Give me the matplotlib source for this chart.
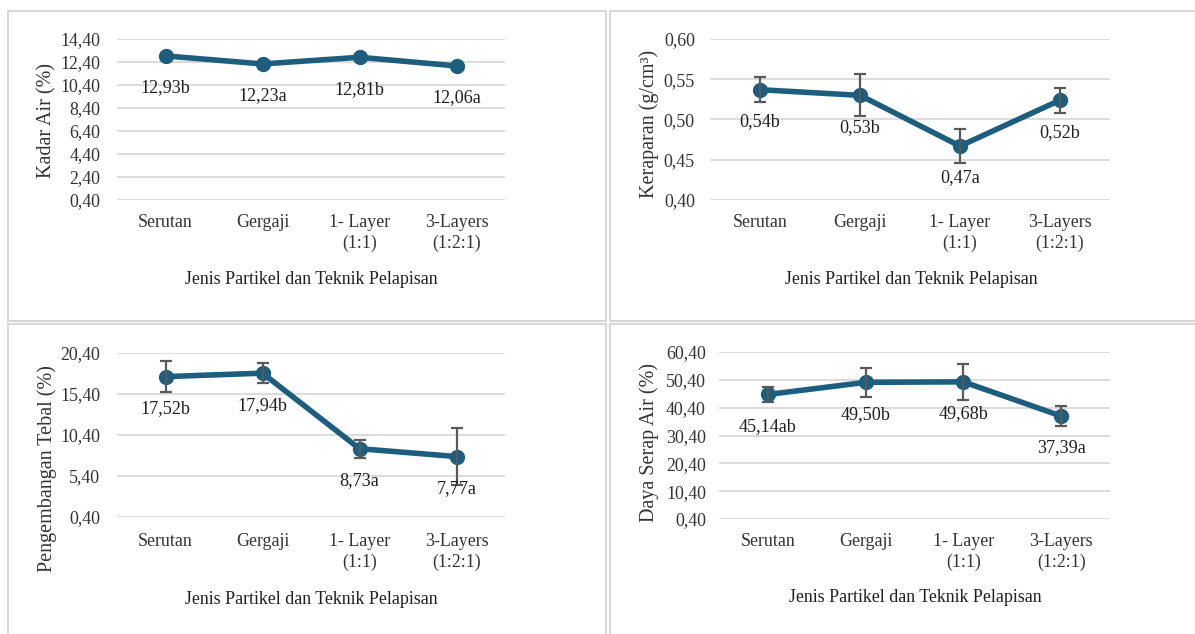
import matplotlib
matplotlib.use("Agg")
import matplotlib.pyplot as plt
from matplotlib.patches import Rectangle

plt.rcParams['font.family'] = ['Liberation Serif', 'DejaVu Serif']

categories = ["Serutan", "Gergaji", "1- Layer\n(1:1)", "3-Layers\n(1:2:1)"]

kadar_air = [12.93, 12.23, 12.81, 12.06]
kadar_air_labels = ["12,93b", "12,23a", "12,81b", "12,06a"]

kerapatan = [0.537, 0.530, 0.467, 0.524]
kerapatan_err = [0.0155, 0.026, 0.021, 0.0155]
kerapatan_labels = ["0,54b", "0,53b", "0,47a", "0,52b"]

pengembangan = [17.52, 17.94, 8.73, 7.77]
pengembangan_err = [1.9, 1.2, 1.1, 3.5]
pengembangan_labels = ["17,52b", "17,94b", "8,73a", "7,77a"]

daya_serap = [45.14, 49.50, 49.68, 37.39]
daya_serap_err = [2.7, 5.3, 6.5, 3.5]
daya_serap_labels = ["45,14ab", "49,50b", "49,68b", "37,39a"]

W, H = 1195, 634
fig = plt.figure(figsize=(W / 100, H / 100), dpi=100)
fig.patch.set_facecolor('white')

LINE = '#1D5E7E'
GRID = '#D9D9D9'
TXT = '#333333'

# panel borders
for (x0, y0, x1, y1) in [(8, 11, 606, 321), (610, 11, 1199, 321),
                         (8, 324, 606, 640), (610, 324, 1199, 640)]:
    fig.patches.append(Rectangle((x0 / W, 1 - y1 / H), (x1 - x0) / W, (y1 - y0) / H,
                                 transform=fig.transFigure, fill=False,
                                 edgecolor='#D6D6D6', linewidth=1.4))


def fx(px):
    return px / W


def fy(py):
    return 1 - py / H


def panel(left, right, top, bottom, values, errs, labels, yticks, yticklabels,
          ylabel, ylab_xy, xlab_xy, ypad, xpad):
    ax = fig.add_axes([fx(left), fy(bottom), fx(right - left), (bottom - top) / H])
    x = list(range(len(values)))
    ax.plot(x, values, color=LINE, linewidth=4.0, marker='o', markersize=10,
            zorder=3, solid_capstyle='round')
    if errs is not None:
        ax.errorbar(x, values, yerr=errs, fmt='none', ecolor='#595959',
                    elinewidth=1.6, capsize=4.5, capthick=1.6, zorder=4)
    for xi, v, lab in zip(x, values, labels):
        ax.annotate(lab, (xi, v), xytext=(0, -23), textcoords='offset points',
                    ha='center', va='center', fontsize=13.1, color='#1f1f1f', zorder=5)
    ax.set_xlim(-0.5, len(values) - 0.5)
    ax.set_ylim(yticks[0], yticks[-1])
    ax.set_yticks(yticks)
    ax.set_yticklabels(yticklabels)
    ax.set_xticks(x)
    ax.set_xticklabels(categories, linespacing=1.25)
    ax.tick_params(axis='y', length=0, pad=ypad, labelsize=12.9, labelcolor=TXT)
    ax.tick_params(axis='x', length=0, pad=xpad, labelsize=12.9, labelcolor=TXT)
    ax.grid(axis='y', color=GRID, linewidth=1.3, zorder=0)
    ax.set_axisbelow(True)
    for s in ax.spines.values():
        s.set_visible(False)
    ax.set_facecolor('none')
    ax.set_ylabel(ylabel, fontsize=14.5, color=TXT, rotation=90,
                  ha='center', va='center', rotation_mode='anchor')
    ax.yaxis.set_label_coords(fx(ylab_xy[0]), fy(ylab_xy[1]), transform=fig.transFigure)
    ax.set_xlabel("Jenis Partikel dan Teknik Pelapisan", fontsize=12.9, color='#1f1f1f',
                  ha='center', va='center')
    ax.xaxis.set_label_coords(fx(xlab_xy[0]), fy(xlab_xy[1]), transform=fig.transFigure)
    return ax


panel(117, 505, 39, 200, kadar_air, None, kadar_air_labels,
      [0.4, 2.4, 4.4, 6.4, 8.4, 10.4, 12.4, 14.4],
      ["0,40", "2,40", "4,40", "6,40", "8,40", "10,40", "12,40", "14,40"],
      "Kadar Air (%)", (46.5, 120), (311, 280), 12, 10)

panel(710, 1110, 39, 200, kerapatan, kerapatan_err, kerapatan_labels,
      [0.40, 0.45, 0.50, 0.55, 0.60],
      ["0,40", "0,45", "0,50", "0,55", "0,60"],
      "Keraparan (g/cm³)", (649.5, 124), (911.5, 280), 10.8, 10)

panel(117, 505, 353, 517, pengembangan, pengembangan_err, pengembangan_labels,
      [0.4, 5.4, 10.4, 15.4, 20.4],
      ["0,40", "5,40", "10,40", "15,40", "20,40"],
      "Pengembangan Tebal (%)", (47.5, 469), (311, 600), 12, 11.5)

panel(719, 1110, 352, 519, daya_serap, daya_serap_err, daya_serap_labels,
      [0.4, 10.4, 20.4, 30.4, 40.4, 50.4, 60.4],
      ["0,40", "10,40", "20,40", "30,40", "40,40", "50,40", "60,40"],
      "Daya Serap Air (%)", (649.5, 443), (915.5, 598), 9.4, 10)

fig.savefig("out.png", dpi=100, facecolor='white')
